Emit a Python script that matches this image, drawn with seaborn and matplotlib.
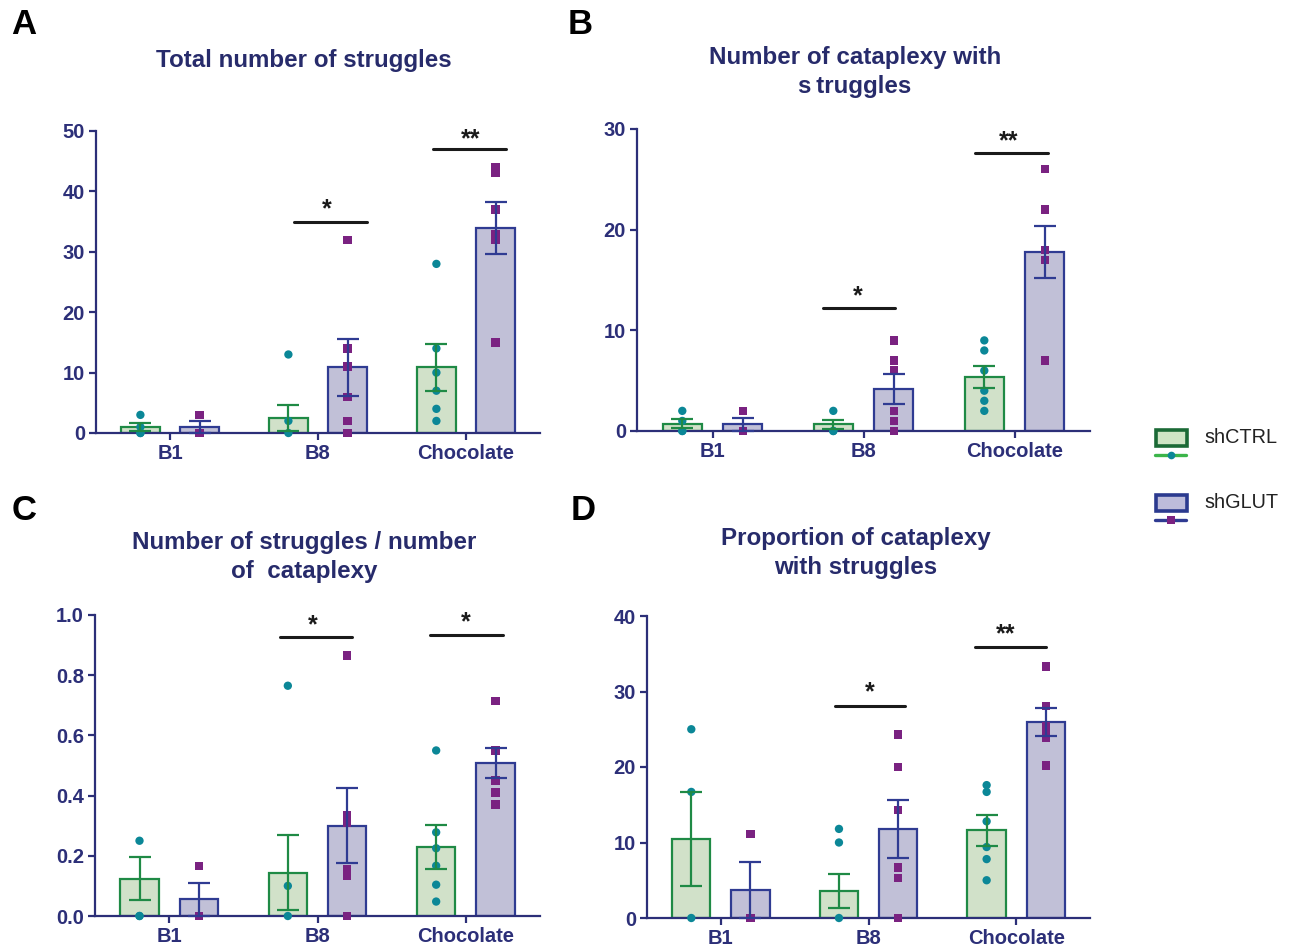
import numpy as np
import pandas as pd
import matplotlib
matplotlib.use("Agg")
import matplotlib.pyplot as plt
from matplotlib.patches import Rectangle
from matplotlib.lines import Line2D
import seaborn as sns

categories = ["B1", "B8", "Chocolate"]
groups = ["shCTRL", "shGLUT"]

# panel A - total number of struggles
a_mean_ctrl = [1.0, 2.5, 10.9]
a_sem_ctrl = [0.7, 2.1, 3.9]
a_mean_glut = [1.0, 10.9, 34.0]
a_sem_glut = [1.0, 4.7, 4.3]
a_pts_ctrl = [[3, 1, 0, 0], [13, 2, 0], [28, 14, 10, 7, 4, 2]]
a_pts_glut = [[3, 0, 0], [32, 14, 11, 6, 2, 0], [44, 43, 37, 33, 32, 15]]

# panel B - number of cataplexy with struggles
b_mean_ctrl = [0.73, 0.66, 5.4]
b_sem_ctrl = [0.47, 0.44, 1.1]
b_mean_glut = [0.66, 4.17, 17.8]
b_sem_glut = [0.66, 1.5, 2.6]
b_pts_ctrl = [[2, 1, 0, 0], [2, 0, 0], [9, 8, 6, 4, 3, 2]]
b_pts_glut = [[2, 0, 0], [9, 7, 6, 2, 1, 0], [26, 22, 18, 17, 7]]

# panel C - struggles / cataplexy
c_mean_ctrl = [0.124, 0.144, 0.229]
c_sem_ctrl = [0.071, 0.125, 0.073]
c_mean_glut = [0.055, 0.30, 0.509]
c_sem_glut = [0.055, 0.124, 0.05]
c_pts_ctrl = [[0.25, 0, 0], [0.765, 0.1, 0], [0.55, 0.278, 0.225, 0.167, 0.104, 0.048]]
c_pts_glut = [[0.167, 0, 0], [0.865, 0.335, 0.31, 0.157, 0.133, 0], [0.714, 0.55, 0.45, 0.41, 0.37]]

# panel D - proportion of cataplexy with struggles
d_mean_ctrl = [10.45, 3.6, 11.6]
d_sem_ctrl = [6.2, 2.27, 2.05]
d_mean_glut = [3.66, 11.78, 25.9]
d_sem_glut = [3.7, 3.8, 1.85]
d_pts_ctrl = [[25, 16.7, 0], [11.8, 10, 0], [17.6, 16.7, 12.8, 9.4, 7.8, 5]]
d_pts_glut = [[11.1, 0], [24.3, 20, 14.3, 6.7, 5.3, 0], [33.3, 28.1, 25.4, 24.4, 23.8, 20.2]]

navy = "#2c2f78"
fill = {"shCTRL": "#cfe5c5", "shGLUT": "#bdbcdb"}
edge = {"shCTRL": "#1f8a45", "shGLUT": "#2f3b92"}
dot = {"shCTRL": "#0b8797", "shGLUT": "#7a2281"}
mark = {"shCTRL": "o", "shGLUT": "s"}

sns.set_style("white")
plt.rcParams["font.family"] = ["Liberation Sans", "DejaVu Sans"]

W, H = 1292, 949
fig = plt.figure(figsize=(W / 100, H / 100), dpi=100)


def px_axes(l, t, r, b):
    return fig.add_axes([l / W, 1 - b / H, (r - l) / W, (b - t) / H])


def panel(ax, means, sems, pts, ymax, ystep, fmt, sig):
    rows = []
    for g, m in zip(groups, means):
        for c, v in zip(categories, m):
            rows.append({"cat": c, "group": g, "val": v})
    df = pd.DataFrame(rows)
    sns.barplot(data=df, x="cat", y="val", hue="group", order=categories,
                hue_order=groups, palette=fill, width=0.8, gap=0.35,
                errorbar=None, linewidth=1.6, legend=False, ax=ax, zorder=1)
    for cont, g, m, s in zip(ax.containers, groups, means, sems):
        xs = []
        for p in cont.patches:
            p.set_edgecolor(edge[g])
            xs.append(p.get_x() + p.get_width() / 2)
        ax.errorbar(xs, m, yerr=s, fmt="none", ecolor=edge[g], elinewidth=1.6,
                    capsize=8, capthick=1.6, zorder=4, clip_on=False)
    for g, p in zip(groups, pts):
        prow = [{"cat": c, "group": g, "val": v} for c, vals in zip(categories, p) for v in vals]
        n0 = len(ax.collections)
        sns.stripplot(data=pd.DataFrame(prow), x="cat", y="val", hue="group",
                      order=categories, hue_order=groups, palette=dot,
                      dodge=True, jitter=False, marker=mark[g], size=6,
                      linewidth=0, legend=False, ax=ax, zorder=3)
        for col in ax.collections[n0:]:
            col.set_clip_on(False)
    ax.set_xlim(-0.5, 2.5)
    ax.set_ylim(0, ymax)
    ticks = np.arange(0, ymax + ystep / 2, ystep)
    ax.set_yticks(ticks)
    ax.set_yticklabels([fmt.format(v) for v in ticks])
    ax.set_xlabel("")
    ax.set_ylabel("")
    sns.despine(ax=ax)
    for sp in ["left", "bottom"]:
        ax.spines[sp].set_color(navy)
        ax.spines[sp].set_linewidth(1.6)
    ax.tick_params(axis="both", colors=navy, length=5, width=1.6, direction="out",
                   labelsize=14.5, pad=3, left=True, bottom=True)
    for t in ax.get_xticklabels() + ax.get_yticklabels():
        t.set_fontweight("bold")
    for x0, x1, yl, xs, ys, txt in sig:
        ax.plot([x0, x1], [yl, yl], color="#1a1a1a", lw=2.2, clip_on=False, zorder=5)
        ax.text(xs, ys, txt, ha="center", va="center", fontsize=18,
                fontweight="bold", color="#1a1a1a")


axA = px_axes(96, 131, 540, 433)
panel(axA, [a_mean_ctrl, a_mean_glut], [a_sem_ctrl, a_sem_glut],
      [a_pts_ctrl, a_pts_glut], 50, 10, "{:.0f}",
      [(0.84, 1.33, 35, 1.06, 37.0, "*"), (1.78, 2.27, 47, 2.03, 48.6, "**")])

axB = px_axes(637, 129, 1090, 431)
panel(axB, [b_mean_ctrl, b_mean_glut], [b_sem_ctrl, b_sem_glut],
      [b_pts_ctrl, b_pts_glut], 30, 10, "{:.0f}",
      [(0.73, 1.21, 12.2, 0.96, 13.4, "*"), (1.74, 2.22, 27.6, 1.96, 28.8, "**")])

axC = px_axes(95, 615, 540, 916)
panel(axC, [c_mean_ctrl, c_mean_glut], [c_sem_ctrl, c_sem_glut],
      [c_pts_ctrl, c_pts_glut], 1.0, 0.2, "{:.1f}",
      [(0.75, 1.23, 0.927, 0.97, 0.965, "*"), (1.76, 2.25, 0.933, 2.0, 0.975, "*")])

axD = px_axes(647, 616, 1090, 918)
panel(axD, [d_mean_ctrl, d_mean_glut], [d_sem_ctrl, d_sem_glut],
      [d_pts_ctrl, d_pts_glut], 40, 10, "{:.0f}",
      [(0.77, 1.25, 28.1, 1.01, 29.9, "*"), (1.72, 2.2, 35.9, 1.93, 37.6, "**")])

title_kw = dict(ha="center", va="center", fontsize=17.4, fontweight="bold",
                color="#272b6b", linespacing=1.3)
fig.text(304 / W, 1 - 60 / H, "Total number of struggles", **title_kw)
fig.text(855 / W, 1 - 72 / H, "Number of cataplexy with\ns\u2009truggles", **title_kw)
fig.text(304 / W, 1 - 557 / H, "Number of struggles / number\nof  cataplexy", **title_kw)
fig.text(856 / W, 1 - 553 / H, "Proportion of cataplexy\nwith struggles", **title_kw)

for lab, x, y in [("A", 24, 25), ("B", 580, 25), ("C", 24, 510), ("D", 583, 510)]:
    fig.text(x / W, 1 - y / H, lab, ha="center", va="center", fontsize=25,
             fontweight="bold", color="black")

# legend drawn in its own axes, pixel units
lax = px_axes(1140, 410, 1292, 540)
lax.set_xlim(1140, 1292)
lax.set_ylim(540, 410)
lax.axis("off")
legend_edge = {"shCTRL": "#1b6a36", "shGLUT": "#2b3a8f"}
legend_line = {"shCTRL": "#3cb54a", "shGLUT": "#2f3b92"}
for g, y0 in zip(groups, [430, 495]):
    lax.add_patch(Rectangle((1156, y0), 31, 16, facecolor=fill[g],
                            edgecolor=legend_edge[g], lw=2.6))
    lax.add_line(Line2D([1155, 1186], [y0 + 25, y0 + 25], color=legend_line[g], lw=2.4))
    lax.plot([1170.5], [y0 + 25], marker=mark[g], color=dot[g], markersize=5.5, mew=0)
    lax.text(1204, y0 + 8, g, ha="left", va="center", fontsize=14.3, color="#222222")

fig.savefig("out.png", dpi=100)
